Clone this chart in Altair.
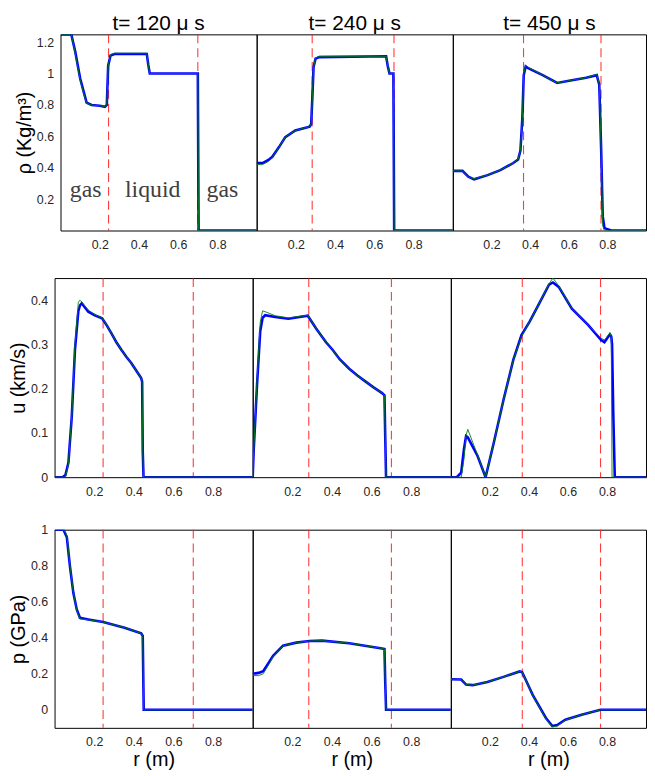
import altair as alt
import pandas as pd

FONT = "Liberation Sans"

col_titles = ["t= 120 μ s", "t= 240 μ s", "t= 450 μ s"]
row_titles = ["ρ (Kg/m³)", "u (km/s)", "p (GPa)"]
y_domains = [[0, 1.25], [0, 0.45], [-0.1, 1]]
y_ticks = [[0.2, 0.4, 0.6, 0.8, 1, 1.2], [0, 0.1, 0.2, 0.3, 0.4], [0, 0.2, 0.4, 0.6, 0.8, 1]]
x_ticks = [0.2, 0.4, 0.6, 0.8]
interfaces = [[0.245, 0.70], [0.283, 0.70], [0.366, 0.767]]

region_labels = ["gas", "liquid", "gas"]
region_x = [0.128, 0.47, 0.825]
region_y = [0.216, 0.216, 0.216]

# ---- density rho (Kg/m^3)
rho120_x = [0, 0.055, 0.075, 0.10, 0.117, 0.133, 0.158, 0.20, 0.226, 0.236, 0.243, 0.255, 0.275, 0.44, 0.447, 0.455, 0.70, 0.704, 1.0]
rho120_blue = [1.25, 1.25, 1.14, 0.97, 0.89, 0.815, 0.80, 0.795, 0.788, 0.80, 1.05, 1.115, 1.125, 1.125, 1.06, 1.0, 1.0, 0.0, 0.0]
rho120_green = [1.25, 1.25, 1.13, 0.96, 0.88, 0.81, 0.80, 0.795, 0.79, 0.80, 1.05, 1.12, 1.13, 1.13, 1.06, 1.0, 1.0, 0.0, 0.0]

rho240_x = [0, 0.03, 0.06, 0.08, 0.113, 0.146, 0.197, 0.24, 0.27, 0.278, 0.284, 0.29, 0.30, 0.32, 0.66, 0.668, 0.677, 0.697, 0.701, 1.0]
rho240_blue = [0.43, 0.43, 0.45, 0.47, 0.53, 0.595, 0.637, 0.652, 0.662, 0.68, 0.85, 1.04, 1.095, 1.105, 1.11, 1.05, 1.0, 1.0, 0.0, 0.0]
rho240_green = [0.42, 0.42, 0.44, 0.465, 0.53, 0.595, 0.637, 0.652, 0.662, 0.68, 0.85, 1.04, 1.10, 1.11, 1.11, 1.05, 1.0, 1.0, 0.0, 0.0]

rho450_x = [0, 0.05, 0.08, 0.11, 0.18, 0.246, 0.313, 0.338, 0.35, 0.36, 0.367, 0.377, 0.39, 0.465, 0.54, 0.616, 0.69, 0.745, 0.758, 0.768, 0.776, 0.785, 0.82, 1.0]
rho450_blue = [0.38, 0.38, 0.343, 0.326, 0.353, 0.385, 0.43, 0.452, 0.51, 0.72, 0.99, 1.045, 1.035, 0.99, 0.94, 0.958, 0.973, 0.99, 0.93, 0.51, 0.09, 0.015, 0.0, 0.0]
rho450_green = [0.38, 0.38, 0.34, 0.33, 0.353, 0.385, 0.43, 0.455, 0.51, 0.72, 1.0, 1.055, 1.04, 0.99, 0.94, 0.958, 0.973, 0.995, 0.93, 0.51, 0.03, 0.0, 0.0, 0.0]

# ---- velocity u (km/s)
u120_x = [0, 0.04, 0.055, 0.07, 0.087, 0.103, 0.12, 0.128, 0.137, 0.17, 0.203, 0.24, 0.265, 0.287, 0.312, 0.337, 0.362, 0.387, 0.412, 0.437, 0.442, 0.445, 0.449, 1.0]
u120_blue = [0, 0, 0.005, 0.033, 0.138, 0.288, 0.375, 0.388, 0.393, 0.374, 0.366, 0.359, 0.342, 0.325, 0.305, 0.288, 0.272, 0.258, 0.241, 0.224, 0.216, 0.06, 0, 0]
u120_green = [0, 0, 0, 0.03, 0.14, 0.30, 0.395, 0.40, 0.396, 0.378, 0.367, 0.36, 0.342, 0.325, 0.305, 0.288, 0.272, 0.258, 0.241, 0.224, 0.216, 0.06, 0, 0]

u240_x = [0, 0.005, 0.022, 0.038, 0.05, 0.063, 0.113, 0.18, 0.278, 0.32, 0.37, 0.403, 0.44, 0.487, 0.53, 0.57, 0.61, 0.653, 0.665, 0.669, 0.673, 1.0]
u240_blue = [0, 0.06, 0.21, 0.33, 0.36, 0.366, 0.362, 0.358, 0.365, 0.336, 0.305, 0.288, 0.266, 0.245, 0.229, 0.216, 0.203, 0.19, 0.185, 0.09, 0, 0]
u240_green = [0, 0.06, 0.22, 0.35, 0.376, 0.374, 0.365, 0.36, 0.366, 0.336, 0.305, 0.288, 0.266, 0.245, 0.229, 0.216, 0.203, 0.19, 0.185, 0.09, 0, 0]

u450_x = [0, 0.03, 0.053, 0.067, 0.078, 0.087, 0.137, 0.178, 0.22, 0.27, 0.32, 0.362, 0.403, 0.453, 0.503, 0.523, 0.553, 0.62, 0.703, 0.77, 0.787, 0.815, 0.822, 0.826, 0.832, 0.84, 1.0]
u450_blue = [0, 0, 0.01, 0.063, 0.093, 0.09, 0.048, 0, 0.078, 0.175, 0.265, 0.321, 0.351, 0.393, 0.435, 0.44, 0.43, 0.381, 0.344, 0.31, 0.305, 0.323, 0.318, 0.3, 0.15, 0, 0]
u450_green = [0, 0, 0, 0.04, 0.095, 0.108, 0.05, 0, 0.078, 0.175, 0.265, 0.318, 0.351, 0.393, 0.437, 0.45, 0.432, 0.381, 0.344, 0.314, 0.31, 0.326, 0.318, 0.0, 0, 0, 0]

# ---- pressure p (GPa)
p120_x = [0, 0.045, 0.062, 0.078, 0.095, 0.112, 0.128, 0.17, 0.245, 0.353, 0.437, 0.445, 0.45, 1.0]
p120_blue = [1, 1, 0.958, 0.794, 0.648, 0.557, 0.511, 0.502, 0.487, 0.456, 0.425, 0.41, 0, 0]
p120_green = [1, 1, 0.97, 0.80, 0.65, 0.55, 0.505, 0.50, 0.487, 0.456, 0.425, 0.41, 0, 0]

p240_x = [0, 0.03, 0.053, 0.08, 0.103, 0.153, 0.22, 0.287, 0.35, 0.487, 0.653, 0.665, 0.669, 0.673, 1.0]
p240_blue = [0.2, 0.205, 0.215, 0.26, 0.30, 0.356, 0.373, 0.382, 0.384, 0.37, 0.341, 0.338, 0.15, 0, 0]
p240_green = [0.19, 0.19, 0.20, 0.25, 0.295, 0.355, 0.373, 0.382, 0.384, 0.37, 0.341, 0.338, 0.15, 0, 0]

p450_x = [0, 0.053, 0.078, 0.112, 0.187, 0.27, 0.353, 0.365, 0.42, 0.487, 0.52, 0.545, 0.587, 0.67, 0.767, 1.0]
p450_blue = [0.17, 0.168, 0.14, 0.137, 0.155, 0.183, 0.213, 0.21, 0.082, -0.045, -0.09, -0.085, -0.055, -0.027, 0, 0]
p450_green = [0.17, 0.168, 0.14, 0.137, 0.155, 0.183, 0.213, 0.21, 0.08, -0.05, -0.095, -0.09, -0.057, -0.027, 0, 0]

series = [
    [(rho120_x, rho120_blue, rho120_green), (rho240_x, rho240_blue, rho240_green), (rho450_x, rho450_blue, rho450_green)],
    [(u120_x, u120_blue, u120_green), (u240_x, u240_blue, u240_green), (u450_x, u450_blue, u450_green)],
    [(p120_x, p120_blue, p120_green), (p240_x, p240_blue, p240_green), (p450_x, p450_blue, p450_green)],
]

row_heights = [198, 201, 200]
row_widths = [[198, 198, 195], [200, 200, 197], [200, 200, 197]]
Y_EXT = 20
X_EXT = 21


def panel(r, c):
    xs, blue, green = series[r][c]
    xaxis = alt.Axis(values=x_ticks, format="~g", grid=False, ticks=False, tickSize=0, domain=False,
                     labelFontSize=12.5, labelPadding=8, labelColor="#262626",
                     minExtent=X_EXT, maxExtent=X_EXT,
                     title="r (m)" if r == 2 else None, titleFontSize=20, titlePadding=1,
                     titleFontWeight="normal", titleColor="black")
    if c == 0:
        yaxis = alt.Axis(values=y_ticks[r], format="~g", grid=False, ticks=False, tickSize=0, domain=False,
                         labelFontSize=12.5, labelPadding=7, labelColor="#262626",
                         minExtent=Y_EXT, maxExtent=Y_EXT,
                         title=row_titles[r], titleFontSize=20, titlePadding=6.5,
                         titleFontWeight="normal", titleColor="black")
    else:
        yaxis = None
    X = alt.X("r:Q", scale=alt.Scale(domain=[0, 1], nice=False, zero=False), axis=xaxis)
    Y = alt.Y("v:Q", scale=alt.Scale(domain=y_domains[r], nice=False, zero=False), axis=yaxis)

    rules = alt.Chart(pd.DataFrame({"r": interfaces[c]})).mark_rule(
        color="#ff1a1a", strokeDash=[9, 5], strokeWidth=1.1, opacity=0.85
    ).encode(x=X)
    n = len(xs)
    dfb = pd.DataFrame({"r": xs, "v": blue, "i": list(range(n))})
    dfg = pd.DataFrame({"r": xs, "v": green, "i": list(range(n))})
    bl = alt.Chart(dfb).mark_line(color="#0000ff", strokeWidth=2.6, clip=True).encode(
        x=X, y=Y, order=alt.Order("i:Q"))
    gl = alt.Chart(dfg).mark_line(color="#008000", strokeWidth=1.0, clip=True, opacity=0.9).encode(
        x=X, y=Y, order=alt.Order("i:Q"))
    layers = [rules, bl, gl]
    if r == 0 and c == 0:
        txt = alt.Chart(pd.DataFrame({"r": region_x, "v": region_y, "t": region_labels})).mark_text(
            font="Liberation Serif", fontSize=24, color="#404040", baseline="alphabetic"
        ).encode(x=X, y=Y, text="t:N")
        layers.append(txt)
    ch = alt.layer(*layers).properties(width=row_widths[r][c], height=row_heights[r])
    if r == 0:
        ch = ch.properties(title=alt.Title(col_titles[c], fontSize=21, font=FONT, fontWeight="normal",
                                           color="black", offset=0))
    return ch


spacer = alt.Chart(pd.DataFrame({"a": [0]})).mark_point(opacity=0).encode(
    x=alt.value(0), y=alt.value(0)
).properties(width=6, height=row_heights[0], view=alt.ViewBackground(stroke="transparent"))

row1 = alt.hconcat(spacer, *[panel(0, c) for c in range(3)], spacing=0, bounds="flush")
row2 = alt.hconcat(*[panel(1, c) for c in range(3)], spacing=0, bounds="flush")
row3 = alt.hconcat(*[panel(2, c) for c in range(3)], spacing=0, bounds="flush")

top = alt.vconcat(row1, row2, spacing=24)
chart = alt.vconcat(top, row3, spacing=24).properties(
    padding={"left": 0, "top": 0, "right": 0, "bottom": 0}
).configure_view(stroke="black", strokeWidth=1).configure_axis(
    labelFont=FONT, titleFont=FONT
).configure_title(font=FONT)

chart.save("out.html", embed_options={"renderer": "svg", "actions": False})
